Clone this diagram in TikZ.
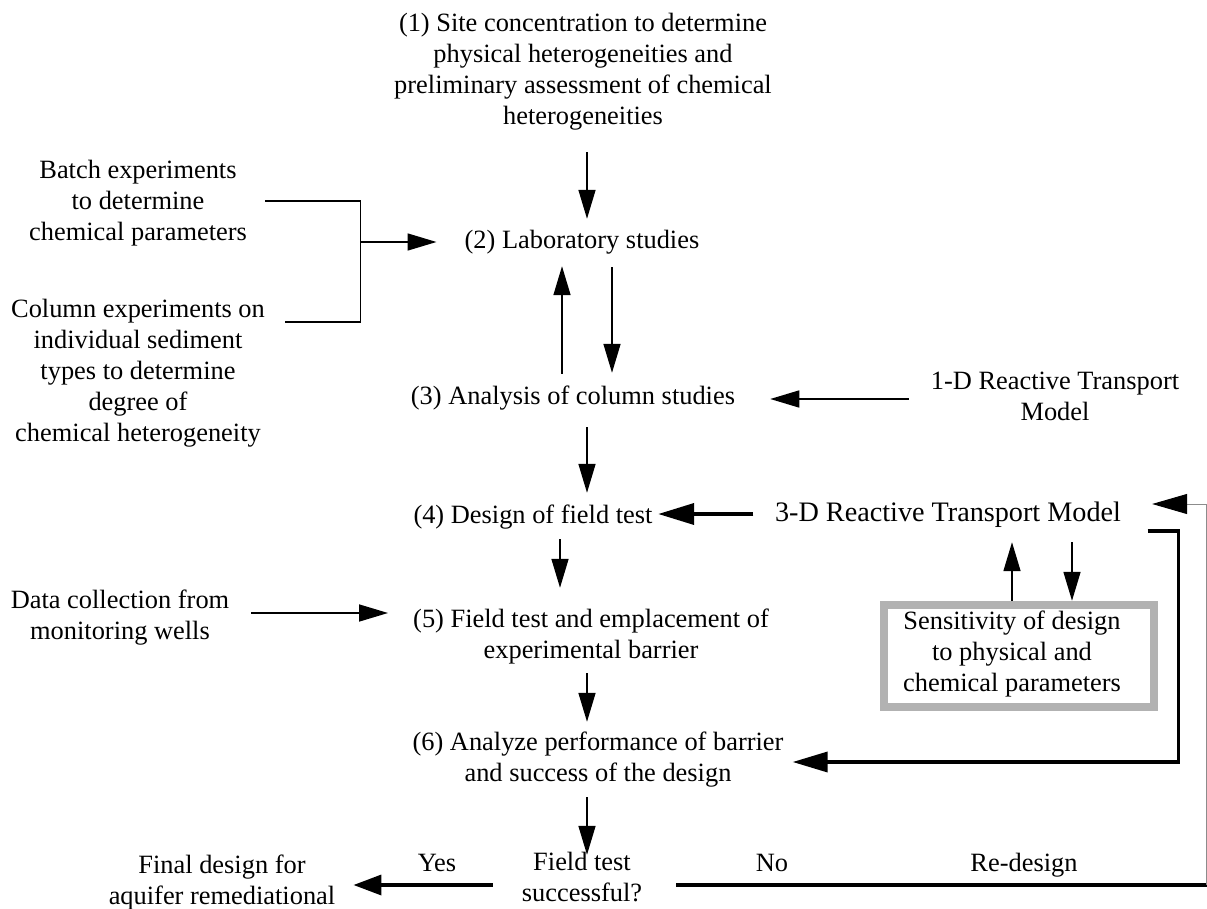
\documentclass[tikz,border=0pt]{standalone}
\usepackage{fontspec}
\setmainfont{Liberation Serif}
\usetikzlibrary{arrows.meta,calc}
\begin{document}
\begin{tikzpicture}[x=1pt,y=-1pt,
  txt/.style={inner sep=0pt, align=center, font=\fontsize{26.4}{31}\selectfont},
  big/.style={inner sep=0pt, align=center, font=\fontsize{28.2}{33}\selectfont},
  senborder/.style={draw=black!30, line width=8pt},
  plain/.style={line width=1.6pt},
  thinarr/.style={line width=1.6pt, -{Triangle[length=29pt,width=17pt]}},
  thickarr/.style={line width=3.8pt, -{Triangle[length=36pt,width=21pt]}},
  yesarr/.style={line width=3.5pt, -{Triangle[length=28pt,width=20pt]}},
  heavy/.style={line width=3.5pt},
  grayarr/.style={line width=1pt, draw=black!45, -{Triangle[length=35pt,width=20pt,color=black]}}]
\useasboundingbox (0,0) rectangle (1207,909);

% nodes
\node[txt] (n1) at (583,72) {\strut(1) Site concentration to determine\\physical heterogeneities and\\preliminary assessment of chemical\\heterogeneities\strut};
\node[txt] (batch) at (138,203.5) {\strut Batch experiments\\to determine\\chemical parameters\strut};
\node[txt] (column) at (138,373.5) {\strut Column experiments on\\individual sediment\\types to determine\\degree of\\chemical heterogeneity\strut};
\node[txt] (n2) at (582,242) {\strut(2) Laboratory studies};
\node[txt] (n3) at (573,398) {\strut(3) Analysis of column studies};
\node[txt] (oneD) at (1055,399) {\strut 1-D Reactive Transport\\Model\strut};
\node[txt] (n4) at (533,517) {\strut(4) Design of field test};
\node[big] (threeD) at (948,515) {\strut 3-D Reactive Transport Model};
\node[txt] (data) at (120,617.5) {\strut Data collection from\\monitoring wells\strut};
\node[txt] (n5) at (591,637) {\strut(5) Field test and emplacement of\\experimental barrier\strut};
\node[txt] (sens) at (1012,654) {\strut Sensitivity of design\\to physical and\\chemical parameters\strut};
\draw[senborder] ($(sens.west)+(-19,-49)$) rectangle ($(sens.east)+(33,53)$);
\node[txt] (n6) at (598,760) {\strut(6) Analyze performance of barrier\\and success of the design\strut};
\node[txt] (test) at (582,880) {\strut Field test\\successful?\strut};
\node[txt] (final) at (222,882.5) {\strut Final design for\\aquifer remediational\strut};
\node[txt] (yes) at (437,865) {\strut Yes};
\node[txt] (no) at (772,865) {\strut No};
\node[txt] (redesign) at (1024,865) {\strut Re-design};

% connectors
\draw[thinarr] ($(n1.south)+(4,18)$) -- ($(n2.north)+(5,-7.5)$);
\coordinate (bj) at ($(n2.west)+(-104,0)$);
\draw[plain] ($(batch.east)+(18,-2.5)$) -| (bj) |- ($(column.north east)+(20,26)$);
\draw[thinarr] (bj) -- ($(n2.west)+(-28,0)$);
\draw[thinarr] ($(n3.north)+(-11,-8.5)$) -- ($(n2.south)+(-20,8.5)$);
\draw[thinarr] ($(n2.south)+(30,9.5)$) -- ($(n3.north)+(39,-9.5)$);
\draw[thinarr] ($(oneD.west)+(-22,0)$) -- ($(n3.east)+(35,1)$);
\draw[thinarr] ($(n3.south)+(14,13.5)$) -- ($(n4.north)+(54,-8.5)$);
\draw[thickarr] ($(threeD.west)+(-21.5,-1)$) -- ($(n4.east)+(5.5,-3)$);
\draw[thinarr] ($(n4.south)+(27,6.5)$) -- ($(n5.north)+(-31,-18)$);
\draw[thinarr] ($(data.east)+(22,-4.5)$) -- ($(n5.west)+(-25,-24)$);
\draw[thinarr] ($(n5.south)+(-4,5)$) -- ($(n6.north)+(-11,-7)$);
\draw[thinarr] ($(n6.south)+(-11,6)$) -- ($(test.north)+(5,6)$);
\draw[yesarr] ($(test.west)+(-29,5)$) -- ($(final.east)+(18,2.5)$);
\coordinate (rb) at (1207,885);
\coordinate (rc) at (1206,885);
\draw[heavy] ($(test.east)+(34,5)$) -- (rb);
\draw[grayarr] (rc) |- ($(threeD.east)+(31,-11)$);
\draw[heavy, -{Triangle[length=35pt,width=20pt]}] ($(threeD.east)+(26.5,16)$) -- ++(31,0) |- ($(n6.east)+(9,2)$);
\draw[thinarr] ($(sens.north)+(0,-6.5)$) -- ($(threeD.south)+(64,10.5)$);
\draw[thinarr] ($(threeD.south)+(124,10.5)$) -- ($(sens.north)+(60,-6.5)$);
\end{tikzpicture}
\end{document}
